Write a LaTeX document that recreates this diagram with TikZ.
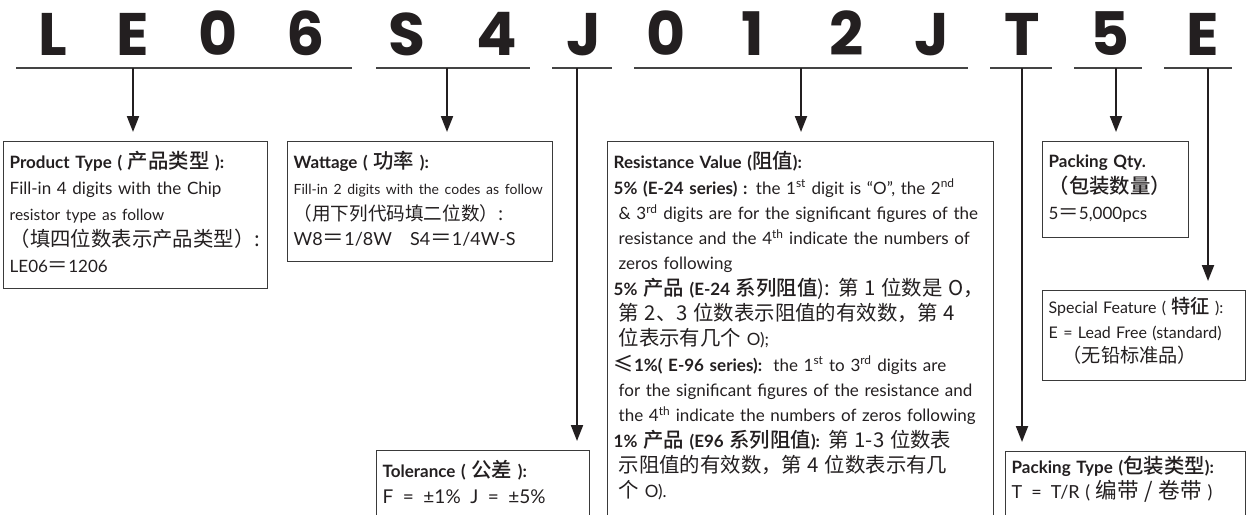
\documentclass[tikz,border=0pt]{standalone}
\usepackage{fontspec}
\setmainfont{Lato}
\newfontfamily\cjk[Scale=1.2,BoldFont={Noto Sans CJK SC Medium}]{Noto Sans CJK SC}
\newfontfamily\codefont{Poppins}
\usetikzlibrary{arrows.meta}
\newcommand{\zh}[1]{{\cjk #1}}
\newcommand{\sps}[1]{\textsuperscript{#1}}
\newcommand{\ind}{\hspace*{5pt}}
\newcommand{\eqs}{\enspace=\enspace}

\begin{document}
\begin{tikzpicture}[x=1pt,y=-1pt,
  codeletter/.style={anchor=base,text=ink,font=\codefont\bfseries\fontsize{60}{60}\selectfont},
  infobox/.style={draw=boxline,line width=1.4pt,anchor=north west,align=left,inner xsep=6pt,inner ysep=0pt,text=ink,
    font=\fontsize{17}{26}\selectfont},
  ruleline/.style={draw=rulegray,line width=1.8pt},
  pointer/.style={draw=ink,line width=2pt,-{Triangle[length=16pt,width=12pt]},shorten >=9pt}]
\definecolor{ink}{HTML}{231F20}
\definecolor{boxline}{HTML}{3A3A3A}
\definecolor{rulegray}{HTML}{444444}
\useasboundingbox (0,0) rectangle (1247,514);
% part number
  \foreach \chr/\pos [count=\i] in {L/53,E/133,0/218,6/306,S/407,4/497,J/584,0/666,1/753,2/847,J/932,T/1022,5/1110,E/1203}
  {  \node [codeletter] (chr\i) at (\pos,55) {\chr};}
% rules under the groups, with the point where the pointer leaves
  \foreach \grp/\xa/\xb/\xm in {ptype/16/352/133,watt/376/530/447,tol/552/612/577,res/634/968/801,pack/990/1052/1022,qty/1074/1142/1116,feat/1164/1232/1208}
  {  \coordinate (\grp-a) at (\xa,68);
     \coordinate (\grp-b) at (\xb,68);
     \coordinate (\grp-m) at (\xm,68);
     \draw [ruleline] (\grp-a) -- (\grp-b);}
% boxes
\node [infobox,text width=252pt,text height=27pt,text depth=120pt] (ptype) at (3,141)
  {\textbf{Product Type ( \zh{产品类型} ):}\\
   Fill-in 4 digits with the Chip\\
   {\fontsize{15.5}{26}\selectfont resistor type as follow}\\
   \zh{（填四位数表示产品类型）:}\\
   LE06\zh{＝}1206};
\node [infobox,text width=253pt,text height=27pt,text depth=93pt,font=\fontsize{17}{25.7}\selectfont] (watt) at (287,141)
  {\textbf{Wattage ( \zh{功率} ):}\\
   \mbox{\fontsize{14}{25.7}\selectfont Fill-in 2 digits with the codes as follow}\\
   {\fontsize{15.5}{25.7}\selectfont\zh{（用下列代码填二位数）:}}\\
   {\fontsize{18}{25.7}\selectfont W8\zh{＝}1/8W\quad S4\zh{＝}1/4W-S}};
\node [infobox,text width=374pt,text height=27pt,text depth=400pt,font=\fontsize{17}{25.3}\selectfont] (res) at (607,141)
  {\textbf{Resistance Value (\zh{阻值}):}\\
   \textbf{5\% (E-24 series) :} the 1\sps{st} digit is “O”, the 2\sps{nd}\\
   \ind\& 3\sps{rd} digits are for the significant figures of the\\
   \ind resistance and the 4\sps{th} indicate the numbers of\\
   \ind zeros following\\
   \textbf{5\% \zh{产品} (E-24 \zh{系列阻值}}\zh{): 第 1 位数是 O，}\\
   \ind\zh{第 2、3 位数表示阻值的有效数，第 4}\\
   \ind\zh{位表示有几个} O);\\
   \textbf{\zh{≤}1\%( E-96 series):}\ \ the 1\sps{st} to 3\sps{rd} digits are\\
   \ind for the significant figures of the resistance and\\
   \ind the 4\sps{th} indicate the numbers of zeros following\\
   \textbf{1\% \zh{产品} (E96 \zh{系列阻值}):} \zh{第 1-3 位数表}\\
   \ind\zh{示阻值的有效数，第 4 位数表示有几}\\
   \ind\zh{个} O).};
\node [infobox,text width=201pt,text height=27pt,text depth=100pt] (tol) at (376,450)
  {\textbf{Tolerance ( \zh{公差} ):}\\
   {\fontsize{19}{26}\selectfont F\eqs±1\%\enspace J\eqs±5\%}};
\node [infobox,text width=134pt,text height=26pt,text depth=70pt] (qty) at (1042,141)
  {\textbf{Packing Qty.}\\
   \textbf{\zh{（包装数量）}}\\
   5\zh{＝}5,000pcs};
\node [infobox,text width=191pt,text height=23pt,text depth=67pt,font=\fontsize{16}{24.5}\selectfont] (feat) at (1042,290)
  {Special Feature ( \zh{\textbf{特征}} ):\\
   E = Lead Free (standard)\\
   \hspace*{14pt}\zh{（无铅标准品）}};
\node [infobox,text width=228pt,text height=22pt,text depth=100pt,font=\fontsize{17}{25}\selectfont] (pack) at (1005,451)
  {\textbf{Packing Type (\zh{包装类型}):}\\
   {\fontsize{18}{25}\selectfont T\eqs T/R ( \zh{编带 / 卷带} )}};
% pointers
  \foreach \grp in {ptype,watt,tol,res,pack,qty,feat}
  {  \draw [pointer] (\grp-m) -- (\grp-m |- \grp.north);}
\end{tikzpicture}
\end{document}
